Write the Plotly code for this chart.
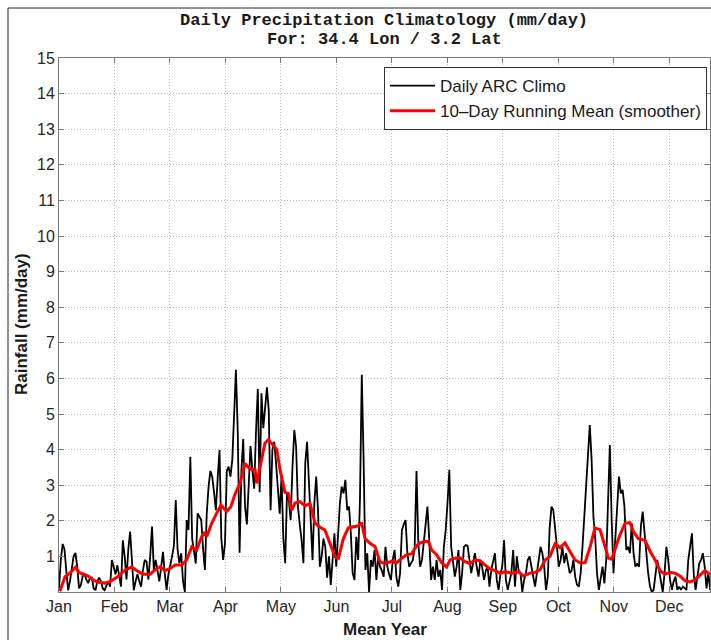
import plotly.graph_objects as go

# ---------------- data ----------------
month_labels = ["Jan", "Feb", "Mar", "Apr", "May", "Jun",
                "Jul", "Aug", "Sep", "Oct", "Nov", "Dec"]
y_ticks = list(range(1, 16))

# Daily ARC climatology, one value per day of the year (day 0 = 1 Jan)
daily_climo = [
    0.1, 0.9, 1.35, 1.2, 0.6, 0.05, 0.3, 0.7, 1.0, 1.1,
    0.7, 0.1, 0.2, 0.45, 0.5, 0.35, 0.25, 0.4, 0.4, 0.1,
    0.05, 0.3, 0.4, 0.3, 0.1, 0.05, 0.2, 0.3, 0.15, 0.9,
    0.7, 0.5, 0.75, 0.5, 0.15, 1.45, 1.0, 0.35, 1.2, 1.7,
    0.9, 0.05, 0.3, 0.5, 0.3, 0.15, 0.6, 0.9, 0.85, 0.35,
    1.0, 1.84, 0.6, 0.9, 0.6, 0.3, 0.7, 1.13, 0.5, 0.06,
    0.5, 0.71, 1.0, 1.3, 2.58, 1.2, 0.81, 1.09, 0.3, 0.0,
    2.02, 1.74, 3.8, 1.5, 1.09, 0.8, 2.21, 2.1, 2.02, 1.2,
    0.62, 2.2, 2.96, 3.4, 3.24, 2.8, 2.3, 3.2, 3.99, 1.5,
    0.9, 1.37, 3.4, 3.52, 3.24, 3.71, 5.2, 6.24, 4.5, 1.1,
    3.4, 4.3, 2.4, 1.9, 3.0, 4.1, 3.43, 2.9, 4.5, 5.7,
    2.8, 5.58, 4.6, 5.2, 5.75, 5.1, 2.3, 4.0, 4.22, 3.61,
    2.96, 2.2, 3.24, 1.5, 0.81, 2.77, 2.59, 2.02, 3.5, 4.55,
    4.08, 2.4, 1.9, 1.46, 0.81, 3.61, 4.22, 3.0, 2.21, 0.9,
    2.5, 3.24, 2.3, 0.71, 1.0, 1.5, 1.27, 0.4, 1.0, 0.2,
    0.9, 1.65, 0.71, 1.65, 2.5, 2.96, 2.77, 3.15, 2.3, 2.4,
    1.65, 0.53, 0.34, 1.55, 0.9, 2.59, 6.1, 3.71, 0.62, 1.09,
    0.0, 0.9, 0.71, 1.18, 0.34, 0.99, 0.71, 0.6, 0.43, 1.27,
    0.71, 0.5, 0.34, 0.9, 1.18, 0.4, 0.15, 0.53, 1.74, 1.9,
    2.02, 1.09, 0.71, 0.81, 0.9, 1.27, 3.4, 1.37, 0.71, 0.9,
    1.46, 1.9, 2.4, 1.46, 0.34, 0.71, 0.34, 0.9, 0.43, 0.62,
    0.06, 1.27, 1.74, 2.5, 3.43, 1.27, 0.9, 0.43, 0.71, 1.18,
    0.06, 0.53, 1.27, 1.32, 1.3, 0.9, 0.53, 0.8, 1.09, 0.71,
    0.43, 0.9, 0.7, 0.34, 0.6, 0.71, 0.15, 0.62, 0.9, 1.09,
    0.34, 0.06, 0.5, 0.71, 1.46, 0.34, 0.06, 0.3, 0.53, 1.18,
    0.15, 1.0, 0.6, 0.53, 0.0, 0.34, 0.53, 0.9, 1.0, 0.71,
    0.43, 0.15, 0.53, 0.9, 1.27, 1.09, 0.71, 0.06, 0.43, 1.8,
    2.4, 2.3, 1.65, 1.27, 0.71, 0.9, 1.27, 0.81, 1.09, 0.8,
    0.53, 0.6, 0.9, 0.43, 0.2, 0.15, 0.53, 1.27, 2.21, 2.77,
    4.0, 4.69, 3.71, 2.11, 1.5, 0.5, 0.06, 0.34, 0.71, 0.24,
    0.9, 2.5, 4.13, 2.02, 0.53, 1.5, 2.5, 3.24, 2.77, 2.87,
    2.4, 1.18, 1.27, 1.09, 1.93, 1.09, 0.71, 0.8, 0.71, 1.84,
    2.26, 1.65, 0.9, 0.53, 0.15, 0.0, 0.06, 0.43, 0.9, 0.6,
    0.34, 0.0, 0.53, 1.27, 0.9, 0.34, 0.06, 0.3, 0.43, 0.06,
    0.15, 0.06, 0.15, 0.1, 0.06, 0.9, 1.27, 1.65, 0.5, 0.06,
    0.43, 0.8, 0.9, 1.09, 0.71, 0.1, 0.53, 0.06,
]
daily_days = list(range(len(daily_climo)))

# 10-day running mean
mean_days = [
    0.5, 3.3, 6, 9.1, 11, 13.5, 16, 18, 21, 25.2,
    28, 30.7, 33.4, 36.2, 39.8, 43.5, 46.2, 50, 52.6, 55.4,
    58.1, 60.9, 63.6, 67.3, 70, 72.8, 75.5, 78.2, 80, 81,
    83.7, 86.4, 88.8, 91.9, 94.3, 96.5, 99.2, 102, 104.7, 107.5,
    108.4, 110.2, 112.9, 114.8, 117.5, 119.4, 121.2, 123.9, 125.7, 127.6,
    129.4, 132.1, 134.9, 137.6, 140.4, 143.1, 145.8, 148.6, 151.3, 153.2,
    155.9, 158.6, 161.4, 164.1, 165.9, 167.8, 170.5, 173.3, 176, 178.8,
    182.4, 185.1, 187.9, 190.6, 193.3, 196.1, 198, 200.6, 202.5, 204.3,
    207, 209.8, 212.5, 214.4, 217.1, 219.8, 222.6, 225.3, 228, 230.8,
    233.5, 236.3, 239, 241.8, 244.5, 248.2, 251.8, 254.6, 258.2, 261,
    263.7, 266.5, 269.2, 271.9, 274.7, 277.4, 280.2, 282.9, 285.7, 288.4,
    291.1, 293.8, 296.6, 299.3, 301.2, 303, 304.8, 307.5, 310.3, 313,
    314.9, 317.6, 321.3, 324, 326.8, 329.5, 332.2, 335, 337.7, 340.4,
    343.1, 345.9, 348.6, 351.4, 354.1, 356.8,
]
mean_vals = [
    0.02, 0.43, 0.53, 0.7, 0.55, 0.5, 0.45, 0.36, 0.28, 0.25,
    0.3, 0.38, 0.48, 0.62, 0.7, 0.57, 0.5, 0.5, 0.62, 0.71,
    0.6, 0.66, 0.76, 0.76, 0.9, 1.27, 1.18, 1.55, 1.68, 1.55,
    1.93, 2.21, 2.44, 2.26, 2.4, 2.75, 3.05, 3.61, 3.45, 3.43,
    3.05, 3.5, 4.18, 4.28, 4.12, 4.0, 3.43, 2.8, 2.77, 2.3,
    2.5, 2.54, 2.42, 2.49, 1.93, 1.82, 1.74, 1.37, 0.99, 0.95,
    1.5, 1.8, 1.82, 1.86, 1.95, 1.5, 1.37, 1.27, 0.84, 0.8,
    0.86, 0.82, 0.95, 1.05, 1.07, 1.3, 1.38, 1.42, 1.42, 1.18,
    1.05, 0.82, 0.7, 0.9, 0.95, 0.96, 0.85, 0.8, 0.9, 0.88,
    0.76, 0.65, 0.6, 0.53, 0.57, 0.53, 0.57, 0.45, 0.53, 0.55,
    0.62, 0.9, 1.0, 1.35, 1.24, 1.38, 1.13, 0.9, 0.82, 0.82,
    1.25, 1.8, 1.75, 1.27, 0.95, 0.92, 1.2, 1.6, 1.93, 1.95,
    1.7, 1.5, 1.45, 1.15, 0.9, 0.6, 0.5, 0.55, 0.53, 0.45,
    0.32, 0.28, 0.34, 0.48, 0.6, 0.5,
]

month_pos = [i * 365.0 / 12.0 for i in range(len(month_labels))]

# ---------------- figure ----------------
W, H = 711, 640
L, R, T, B = 59, 1, 58, 48
plot_w = W - L - R
plot_h = H - T - B


def px_x(px):
    return (px - L) / plot_w


def px_y(py):
    return (H - B - py) / plot_h


fig = go.Figure()
fig.add_trace(go.Scatter(
    x=daily_days, y=daily_climo, mode="lines", name="Daily ARC Climo",
    line=dict(color="black", width=1.8),
))
fig.add_trace(go.Scatter(
    x=mean_days, y=mean_vals, mode="lines",
    name="10\u2013Day Running Mean (smoother)",
    line=dict(color="#ff0000", width=3),
))

axis_common = dict(
    showgrid=True, gridcolor="#bcbcbc", griddash="1px,2px", gridwidth=1,
    showline=True, linecolor="#7a7a7a", linewidth=1, mirror="ticks",
    ticks="inside", ticklen=5, tickcolor="#7a7a7a",
    zeroline=False,
    tickfont=dict(family="Liberation Sans, Arial, sans-serif", size=16, color="#262626"),
)

fig.update_xaxes(range=[0, (plot_w) / 1.824], tickmode="array",
                 tickvals=month_pos, ticktext=month_labels, **axis_common)
fig.update_yaxes(range=[0, 15], tickmode="array", tickvals=y_ticks,
                 ticktext=[str(v) for v in y_ticks], **axis_common)

title_font = dict(family="Courier New, Liberation Mono, monospace", size=17, color="#1a1a1a")
label_font = dict(family="Liberation Sans, Arial, sans-serif", size=17, color="#1a1a1a")

fig.update_layout(
    width=W, height=H, autosize=False,
    margin=dict(l=L, r=R, t=T, b=B),
    paper_bgcolor="white", plot_bgcolor="white",
    showlegend=True,
    legend=dict(
        x=px_x(707), y=px_y(67), xanchor="right", yanchor="top",
        bgcolor="white", bordercolor="#333333", borderwidth=1,
        font=dict(family="Liberation Sans, Arial, sans-serif", size=17, color="#1a1a1a"),
        tracegroupgap=0, itemwidth=45,
    ),
    annotations=[
        dict(text="<b>Daily Precipitation Climatology (mm/day)</b>", x=px_x(384), y=px_y(21),
             xref="paper", yref="paper", showarrow=False, xanchor="center",
             yanchor="middle", font=title_font),
        dict(text="<b>For: 34.4 Lon / 3.2 Lat</b>", x=px_x(384), y=px_y(40),
             xref="paper", yref="paper", showarrow=False, xanchor="center",
             yanchor="middle", font=title_font),
        dict(text="<b>Rainfall (mm/day)</b>", x=px_x(21), y=px_y(324),
             xref="paper", yref="paper", showarrow=False, textangle=-90,
             xanchor="center", yanchor="middle", font=label_font),
        dict(text="<b>Mean Year</b>", x=px_x(385), y=px_y(629),
             xref="paper", yref="paper", showarrow=False, xanchor="center",
             yanchor="middle", font=label_font),
    ],
    shapes=[
        dict(type="rect", xref="paper", yref="paper",
             x0=px_x(8), y0=px_y(8), x1=px_x(760), y1=px_y(700),
             line=dict(color="#222222", width=1), fillcolor="rgba(0,0,0,0)",
             layer="below"),
    ],
)

fig.write_html("out.html", config={"displayModeBar": False},
               post_script="document.body.style.margin='0px';document.body.style.overflow='hidden';")
